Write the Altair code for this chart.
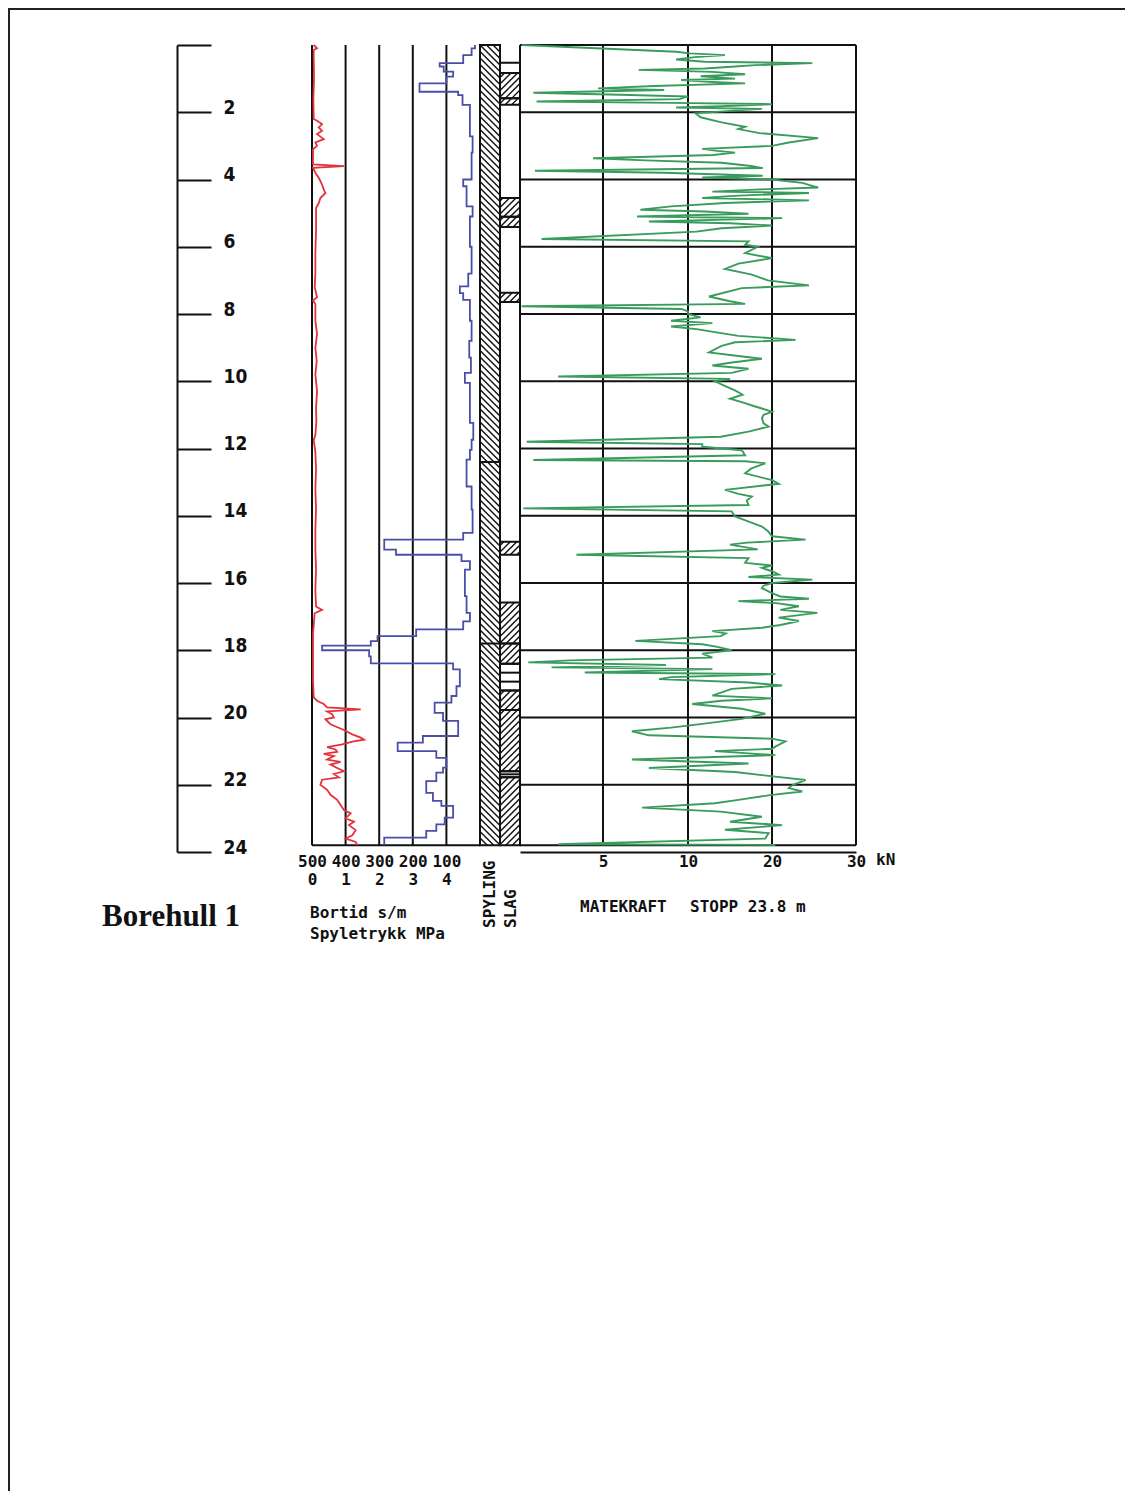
import altair as alt
import pandas as pd
import numpy as np

# ---------------- data ----------------
STOP_DEPTH = 23.8
DEPTH_TICKS = [0, 2, 4, 6, 8, 10, 12, 14, 16, 18, 20, 22, 24]
GRID_DEPTHS = [2, 4, 6, 8, 10, 12, 14, 16, 18, 20, 22]

# Matekraft (kN), green curve
GREEN_DEPTH = [
    0.00, 0.20, 0.25, 0.30, 0.36, 0.43, 0.50, 0.54, 0.60, 0.64,
    0.70, 0.74, 0.80, 0.87, 0.93, 1.00, 1.04, 1.10, 1.14, 1.22,
    1.29, 1.34, 1.42, 1.48, 1.53, 1.61, 1.68, 1.72, 1.76, 1.82,
    1.86, 1.90, 1.96, 2.03, 2.15, 2.30, 2.43, 2.50, 2.62, 2.77,
    2.90, 3.00, 3.09, 3.15, 3.20, 3.27, 3.37, 3.43, 3.50, 3.60,
    3.66, 3.74, 3.80, 3.89, 3.94, 4.00, 4.10, 4.24, 4.30, 4.36,
    4.40, 4.48, 4.55, 4.62, 4.70, 4.80, 4.90, 4.95, 5.02, 5.10,
    5.15, 5.25, 5.30, 5.37, 5.45, 5.55, 5.77, 5.84, 5.94, 6.00,
    6.19, 6.34, 6.50, 6.66, 6.83, 7.00, 7.15, 7.23, 7.48, 7.62,
    7.70, 7.77, 7.85, 7.92, 8.00,
    8.10, 8.20, 8.27, 8.37, 8.45, 8.54, 8.65, 8.77, 8.84, 8.95,
    9.14, 9.25, 9.33, 9.45, 9.53, 9.63, 9.75, 9.86, 9.93, 10.00,
    10.15, 10.27, 10.40, 10.52, 10.62, 10.75, 10.81, 10.91, 11.00, 11.10,
    11.25, 11.35, 11.50, 11.65, 11.80, 11.87, 11.95, 12.05, 12.20, 12.34,
    12.38, 12.44, 12.60, 12.74, 12.94, 13.05, 13.10, 13.23, 13.35, 13.43,
    13.55, 13.68, 13.78, 13.87, 14.02, 14.15, 14.32, 14.45, 14.61, 14.71,
    14.80, 14.86, 15.00, 15.16, 15.26, 15.40, 15.48, 15.55, 15.65, 15.75,
    15.82, 15.90, 16.00,
    16.08, 16.15, 16.30, 16.40, 16.47, 16.54, 16.60, 16.69, 16.80, 16.89,
    17.03, 17.13, 17.25, 17.33, 17.43, 17.50, 17.58, 17.72, 17.82, 17.90,
    18.00, 18.10, 18.22, 18.30, 18.36, 18.44, 18.51, 18.56, 18.66, 18.71,
    18.80, 18.86, 18.96, 19.05, 19.15, 19.35, 19.43, 19.50, 19.60, 19.74,
    19.89, 20.04, 20.19, 20.30, 20.41, 20.53, 20.63, 20.71, 20.85, 20.93,
    21.00, 21.12, 21.25, 21.37, 21.50, 21.62, 21.76, 21.86, 22.00, 22.10,
    22.20, 22.30, 22.45, 22.55, 22.68, 22.80, 22.95, 23.10, 23.20, 23.34,
    23.44, 23.60, 23.77, 23.79,
]
GREEN_KN = [
    0.1, 9.3, 10.2, 14.4, 10.8, 9.3, 12.0, 24.8, 18.0, 15.6,
    12.0, 7.1, 12.9, 16.8, 11.5, 15.6, 9.6, 13.0, 16.8, 8.0,
    4.7, 8.6, 0.8, 6.0, 10.0, 9.5, 1.0, 9.0, 20.0, 14.0,
    9.3, 18.8, 15.0, 10.9, 11.5, 14.0, 16.8, 16.0, 18.5, 25.5,
    22.0, 20.0, 11.7, 13.5, 15.6, 13.0, 4.4, 7.5, 14.0, 17.5,
    18.9, 0.9, 8.6, 18.9, 11.7, 20.0, 23.6, 25.5, 18.0, 12.9,
    24.4, 16.0, 11.7, 24.4, 14.4, 9.0, 7.2, 12.0, 17.2, 7.0,
    21.2, 7.7, 15.0, 20.0, 14.0, 11.0, 1.3, 17.2, 16.8, 18.3,
    16.8, 20.0, 16.0, 14.4, 17.6, 19.5, 24.4, 16.4, 12.5, 15.0,
    16.8, 0.1, 9.6, 10.0, 10.0,
    11.5, 9.0, 12.9, 9.0, 11.0, 13.2, 16.0, 22.8, 15.6, 14.0,
    12.5, 16.0, 18.8, 15.0, 12.9, 17.2, 15.2, 2.3, 15.0, 13.2,
    14.5, 15.6, 16.5, 15.0, 16.4, 18.0, 18.8, 20.0, 19.0, 18.8,
    19.0, 19.6, 17.2, 13.9, 0.4, 11.7, 11.7, 16.4, 16.8, 0.8,
    16.8, 19.2, 17.5, 16.8, 20.0, 20.8, 19.0, 14.4, 16.0, 17.6,
    17.0, 17.2, 0.2, 15.2, 15.6, 17.0, 18.8, 19.5, 20.0, 24.0,
    17.0, 15.0, 18.3, 3.4, 17.2, 16.8, 20.0, 18.8, 20.0, 20.8,
    17.2, 24.8, 20.0,
    19.0, 18.8, 20.0, 21.0, 24.4, 16.0, 20.5, 23.2, 21.0, 25.4,
    20.8, 23.2, 21.0, 18.8, 12.9, 14.5, 13.9, 6.9, 11.7, 13.5,
    15.2, 11.7, 12.9, 3.0, 0.5, 8.7, 1.9, 12.9, 3.9, 20.4,
    9.0, 8.3, 17.2, 21.2, 15.2, 12.9, 20.0, 14.0, 10.5, 16.4,
    19.2, 16.4, 11.7, 9.0, 6.7, 7.7, 20.0, 21.6, 20.5, 20.0,
    13.2, 20.4, 6.7, 17.2, 7.7, 15.6, 20.4, 24.0, 22.5, 22.0,
    23.6, 20.0, 16.0, 13.2, 7.3, 13.9, 18.8, 15.0, 21.2, 14.4,
    19.6, 19.2, 2.3, 20.4,
]

# Spyletrykk (MPa), red curve
RED_DEPTH = [
    0.00, 0.10, 0.15, 0.30, 1.00, 1.60, 2.20, 2.25, 2.35, 2.45,
    2.55, 2.65, 2.80, 2.90, 3.00, 3.10, 3.55, 3.60, 3.65, 3.80,
    3.95, 4.05, 4.15, 4.30, 4.40, 4.55, 4.70, 4.85, 5.50, 6.20,
    6.80, 7.20, 7.50, 7.60, 7.70, 8.20, 8.60, 9.00, 9.40, 9.80,
    10.30, 10.80, 11.20, 11.60, 11.75, 12.10, 12.60, 13.20, 13.80, 14.40,
    15.00, 15.60, 16.20, 16.70, 16.80, 16.90, 17.50, 18.20, 18.90, 19.40,
    19.50, 19.60, 19.70, 19.76, 19.82, 19.90, 20.00, 20.05, 20.20, 20.37,
    20.50, 20.60, 20.66, 20.72, 20.80, 20.88, 20.95, 21.02, 21.08, 21.15,
    21.25, 21.32, 21.40, 21.50, 21.60, 21.68, 21.78, 21.85, 22.00, 22.15,
    22.30, 22.45, 22.60, 22.75, 22.85, 23.00, 23.10, 23.20, 23.35, 23.50,
    23.60, 23.70, 23.80,
]
RED_MPA = [
    0.05, 0.15, 0.05, 0.05, 0.06, 0.04, 0.05, 0.15, 0.30, 0.20,
    0.30, 0.15, 0.35, 0.10, 0.15, 0.03, 0.03, 0.95, 0.03, 0.10,
    0.20, 0.25, 0.30, 0.35, 0.40, 0.25, 0.20, 0.12, 0.12, 0.10,
    0.10, 0.08, 0.15, 0.03, 0.10, 0.10, 0.15, 0.10, 0.14, 0.10,
    0.15, 0.12, 0.13, 0.10, 0.05, 0.10, 0.12, 0.10, 0.12, 0.10,
    0.10, 0.12, 0.10, 0.12, 0.30, 0.08, 0.03, 0.03, 0.03, 0.05,
    0.15, 0.35, 0.45, 1.45, 0.45, 0.60, 0.65, 0.40, 0.55, 0.95,
    1.20, 1.45, 1.55, 1.20, 0.90, 0.45, 0.70, 0.75, 0.35, 0.65,
    0.45, 0.85, 0.55, 0.75, 0.95, 0.65, 0.80, 0.30, 0.25, 0.45,
    0.55, 0.75, 0.85, 0.95, 1.15, 1.00, 1.25, 1.10, 1.30, 1.20,
    1.00, 1.30, 1.35,
]

# Bortid (s/m), blue step curve: value holds from each top depth downwards
BLUE_TOP = [
    0.00, 0.10, 0.30, 0.54, 0.64, 0.79, 0.94, 1.14, 1.39, 1.49,
    1.78, 2.72, 3.20, 4.00, 4.20, 4.80, 5.10, 6.00, 6.80, 7.18,
    7.38, 7.58, 8.20, 8.80, 9.30, 9.75, 10.05, 11.24, 11.74, 12.04,
    12.33, 13.13, 13.82, 14.51, 14.71, 15.01, 15.16, 15.35, 15.60, 16.39,
    16.89, 17.14, 17.38, 17.58, 17.73, 17.86, 18.00, 18.18, 18.39, 18.57,
    19.07, 19.36, 19.56, 19.86, 20.10, 20.55, 20.75, 21.00, 21.20, 21.49,
    21.64, 21.89, 22.24, 22.48, 22.63, 22.98, 23.18, 23.37, 23.57,
]
BLUE_SM = [
    15, 25, 50, 120, 108, 80, 100, 180, 65, 52,
    30, 22, 25, 50, 40, 22, 30, 25, 35, 60,
    50, 30, 25, 32, 27, 45, 30, 20, 25, 30,
    40, 25, 22, 50, 285, 250, 55, 30, 45, 40,
    30, 50, 190, 305, 325, 470, 330, 325, 80, 60,
    70, 85, 135, 110, 65, 170, 245, 130, 100, 110,
    130, 160, 140, 115, 80, 105, 130, 160, 285,
]

BORTID_GRID = [500, 400, 300, 200, 100]
BORTID_LABELS = [500, 400, 300, 200, 100]
MPA_LABELS = [0, 1, 2, 3, 4]
KN_BREAKS = [0, 5, 10, 20, 30]
KN_LABELS = [5, 10, 20, 30]

# SPYLING column dividers, SLAG column blocks (depth in m)
SPYLING_BREAKS = [12.4, 17.8]
SLAG_HATCH_TOP = [0.83, 1.58, 4.55, 5.11, 7.37, 14.77, 16.58, 17.80, 19.20, 19.78, 21.78]
SLAG_HATCH_BOT = [1.58, 1.78, 5.11, 5.41, 7.64, 15.16, 17.80, 18.40, 19.78, 21.60, 23.80]
SLAG_LINED_TOP = [0.53, 18.40, 21.60]
SLAG_LINED_BOT = [0.83, 19.20, 21.78]
SLAG_LINED_N = [0, 2, 1]

assert len(GREEN_DEPTH) == len(GREEN_KN)
assert len(RED_DEPTH) == len(RED_MPA)
assert len(BLUE_TOP) == len(BLUE_SM)

# ---------------- styling ----------------
W, H = 1117, 1483
INK = "#111111"
GREEN = "#3a9c5c"
RED = "#e3323c"
BLUE = "#4a4ea8"
PF = "DejaVu Sans Mono"
DF = "DejaVu Sans Condensed, Liberation Sans, sans-serif"

YS = alt.Scale(domain=[0, 24], range=[37, 844], nice=False, zero=False)
GX = alt.Scale(domain=KN_BREAKS, range=[512, 595, 680, 764, 848], nice=False, zero=False)
BX = alt.Scale(domain=[500, 0], range=[304, 472], nice=False, zero=False)
RX = alt.Scale(domain=[0, 5], range=[304, 472], nice=False, zero=False)
CX = alt.Scale(domain=[0, 2], range=[472, 512], nice=False, zero=False)

AXIS_Y = 844  # plot-y of depth 24

ONE = pd.DataFrame({"k": [0]})

# ---------------- frames ----------------
green_df = pd.DataFrame({"i": range(len(GREEN_DEPTH)), "d": GREEN_DEPTH, "v": GREEN_KN})
red_df = pd.DataFrame({"i": range(len(RED_DEPTH)), "d": RED_DEPTH, "v": RED_MPA})
blue_df = pd.DataFrame({
    "i": range(len(BLUE_TOP) + 1),
    "d": BLUE_TOP + [STOP_DEPTH],
    "v": BLUE_SM + [BLUE_SM[-1]],
})

# hatch lines derived from the column intervals
PX_PER_M = (844 - 37) / 24.0
PX_PER_COL = 20.0
SLOPE = PX_PER_COL / PX_PER_M      # depth per column unit at 45 degrees
SPACING = 6.5 / PX_PER_M


def hatch(x0, x1, d0, d1, s):
    segs = []
    w = x1 - x0
    kmin = int(np.floor((d0 - SLOPE * w) / SPACING)) - 1
    kmax = int(np.ceil((d1 + SLOPE * w) / SPACING)) + 1
    for k in range(kmin, kmax + 1):
        c = k * SPACING
        if s > 0:
            xa = max(x0, x0 + (d0 - c) / SLOPE)
            xb = min(x1, x0 + (d1 - c) / SLOPE)
            if xb - xa > 1e-6:
                segs.append((xa, c + SLOPE * (xa - x0), xb, c + SLOPE * (xb - x0)))
        else:
            xa = max(x0, x0 + (c - d1) / SLOPE)
            xb = min(x1, x0 + (c - d0) / SLOPE)
            if xb - xa > 1e-6:
                segs.append((xa, c - SLOPE * (xa - x0), xb, c - SLOPE * (xb - x0)))
    return segs


hatch_rows = hatch(0, 1, 0, STOP_DEPTH, +1)
for a, b in zip(SLAG_HATCH_TOP, SLAG_HATCH_BOT):
    hatch_rows += hatch(1, 2, a, b, -1)
hatch_df = pd.DataFrame(hatch_rows, columns=["x", "d", "x2", "d2"])

blocks = [(0, 1, 0, STOP_DEPTH)]
blocks += [(1, 2, a, b) for a, b in zip(SLAG_HATCH_TOP, SLAG_HATCH_BOT)]
blocks += [(1, 2, a, b) for a, b in zip(SLAG_LINED_TOP, SLAG_LINED_BOT)]
blocks_df = pd.DataFrame(blocks, columns=["x", "x2", "d", "d2"])

hlines = [(0, 1, d) for d in SPYLING_BREAKS]
for a, b, n in zip(SLAG_LINED_TOP, SLAG_LINED_BOT, SLAG_LINED_N):
    for j in range(1, n + 1):
        hlines.append((1, 2, a + (b - a) * j / (n + 1)))
hlines_df = pd.DataFrame(hlines, columns=["x", "x2", "d"])

rb_vert_df = pd.DataFrame({"v": BORTID_GRID, "d": 0.0, "d2": STOP_DEPTH})
rb_bottom_df = pd.DataFrame({"v": [500], "v2": [0], "d": [STOP_DEPTH]})
g_vert_df = pd.DataFrame({"v": KN_BREAKS, "d": 0.0, "d2": STOP_DEPTH})
g_horiz_df = pd.DataFrame({"d": [0] + GRID_DEPTHS + [STOP_DEPTH], "v": 0, "v2": 30})

# ---------------- layers ----------------
layers = []

# page frame
layers.append(alt.Chart(ONE).mark_rule(color="#222", strokeWidth=2).encode(
    x=alt.value(0), x2=alt.value(W), y=alt.value(1)))
layers.append(alt.Chart(ONE).mark_rule(color="#222", strokeWidth=2).encode(
    x=alt.value(1), y=alt.value(0), y2=alt.value(H)))

# depth axis
depth_axis = alt.Axis(
    orient="right", offset=-(W - 169), values=DEPTH_TICKS, title=None,
    domainColor=INK, domainWidth=2, tickColor=INK, tickWidth=2, tickSize=34,
    labelPadding=12, labelFont=DF, labelFontSize=19, labelFontWeight="bold",
    labelColor=INK, labelOffset=-5, labelFlush=False, labelOverlap=False,
    grid=False, labelExpr="datum.value == 0 ? '' : datum.label",
)
layers.append(alt.Chart(pd.DataFrame({"d": DEPTH_TICKS})).mark_point(opacity=0).encode(
    y=alt.Y("d:Q", scale=YS, axis=depth_axis)))

# Bortid / Spyletrykk grid
layers.append(alt.Chart(rb_vert_df).mark_rule(color=INK, strokeWidth=2).encode(
    x=alt.X("v:Q", scale=BX, axis=None),
    y=alt.Y("d:Q", scale=YS, axis=None), y2="d2:Q"))
layers.append(alt.Chart(rb_bottom_df).mark_rule(color=INK, strokeWidth=2).encode(
    x=alt.X("v:Q", scale=BX, axis=None), x2="v2:Q",
    y=alt.Y("d:Q", scale=YS, axis=None)))

# green panel grid
layers.append(alt.Chart(g_vert_df).mark_rule(color=INK, strokeWidth=2).encode(
    x=alt.X("v:Q", scale=GX, axis=None),
    y=alt.Y("d:Q", scale=YS, axis=None), y2="d2:Q"))
layers.append(alt.Chart(g_horiz_df).mark_rule(color=INK, strokeWidth=2).encode(
    x=alt.X("v:Q", scale=GX, axis=None), x2="v2:Q",
    y=alt.Y("d:Q", scale=YS, axis=None)))

# red: Spyletrykk
red_axis = alt.Axis(
    orient="bottom", offset=-(H - AXIS_Y), values=MPA_LABELS, title=None,
    domain=False, ticks=False, grid=False, labelPadding=19, labelFont=PF,
    labelFontSize=16, labelFontWeight="bold", labelColor=INK,
    labelFlush=False, labelOverlap=False)
layers.append(alt.Chart(red_df).mark_line(color=RED, strokeWidth=1.8).encode(
    x=alt.X("v:Q", scale=RX, axis=red_axis),
    y=alt.Y("d:Q", scale=YS, axis=None), order="i:Q"))

# blue: Bortid
blue_axis = alt.Axis(
    orient="bottom", offset=-(H - AXIS_Y), values=BORTID_LABELS, title=None,
    domain=False, ticks=False, grid=False, labelPadding=1, labelFont=PF,
    labelFontSize=16, labelFontWeight="bold", labelColor=INK,
    labelFlush=False, labelOverlap=False)
layers.append(alt.Chart(blue_df).mark_line(color=BLUE, strokeWidth=1.8,
                                           interpolate="step-before").encode(
    x=alt.X("v:Q", scale=BX, axis=blue_axis),
    y=alt.Y("d:Q", scale=YS, axis=None), order="i:Q"))

# green: Matekraft
green_axis = alt.Axis(
    orient="bottom", offset=-(H - AXIS_Y), values=KN_LABELS, title=None,
    domain=True, domainColor=INK, domainWidth=2, ticks=False, grid=False,
    labelPadding=1, labelFont=PF, labelFontSize=16, labelFontWeight="bold",
    labelColor=INK, labelFlush=False, labelOverlap=False)
layers.append(alt.Chart(green_df).mark_line(color=GREEN, strokeWidth=1.9).encode(
    x=alt.X("v:Q", scale=GX, axis=green_axis),
    y=alt.Y("d:Q", scale=YS, axis=None), order="i:Q"))

# SPYLING / SLAG columns
layers.append(alt.Chart(hatch_df).mark_rule(color=INK, strokeWidth=1.4).encode(
    x=alt.X("x:Q", scale=CX, axis=None), x2="x2:Q",
    y=alt.Y("d:Q", scale=YS, axis=None), y2="d2:Q"))
layers.append(alt.Chart(blocks_df).mark_rect(fillOpacity=0, stroke=INK, strokeWidth=2).encode(
    x=alt.X("x:Q", scale=CX, axis=None), x2="x2:Q",
    y=alt.Y("d:Q", scale=YS, axis=None), y2="d2:Q"))
layers.append(alt.Chart(hlines_df).mark_rule(color=INK, strokeWidth=2).encode(
    x=alt.X("x:Q", scale=CX, axis=None), x2="x2:Q",
    y=alt.Y("d:Q", scale=YS, axis=None)))


def label(text, x, y, font=PF, size=16, angle=0, weight="bold", align="left"):
    return alt.Chart(ONE).mark_text(
        text=text, align=align, baseline="middle", font=font, fontSize=size,
        angle=angle, fontWeight=weight, color=INK,
    ).encode(x=alt.value(x), y=alt.value(y))


layers += [
    label("kN", 868, 852),
    label("Bortid s/m", 302, 905),
    label("Spyletrykk MPa", 302, 926),
    label("SPYLING", 482, 920, angle=270),
    label("SLAG", 503, 920, angle=270),
    label("MATEKRAFT", 572, 899),
    label("STOPP 23.8 m", 682, 899),
    label("Borehull 1", 94, 909, font="Liberation Serif", size=31),
]

chart = alt.layer(*layers).resolve_scale(x="independent", y="independent").properties(
    width=W, height=H, padding=0,
    autosize=alt.AutoSizeParams(type="none"),
    background="white",
).configure_view(stroke=None)

chart.save("out.html", embed_options={"renderer": "svg", "actions": False})
